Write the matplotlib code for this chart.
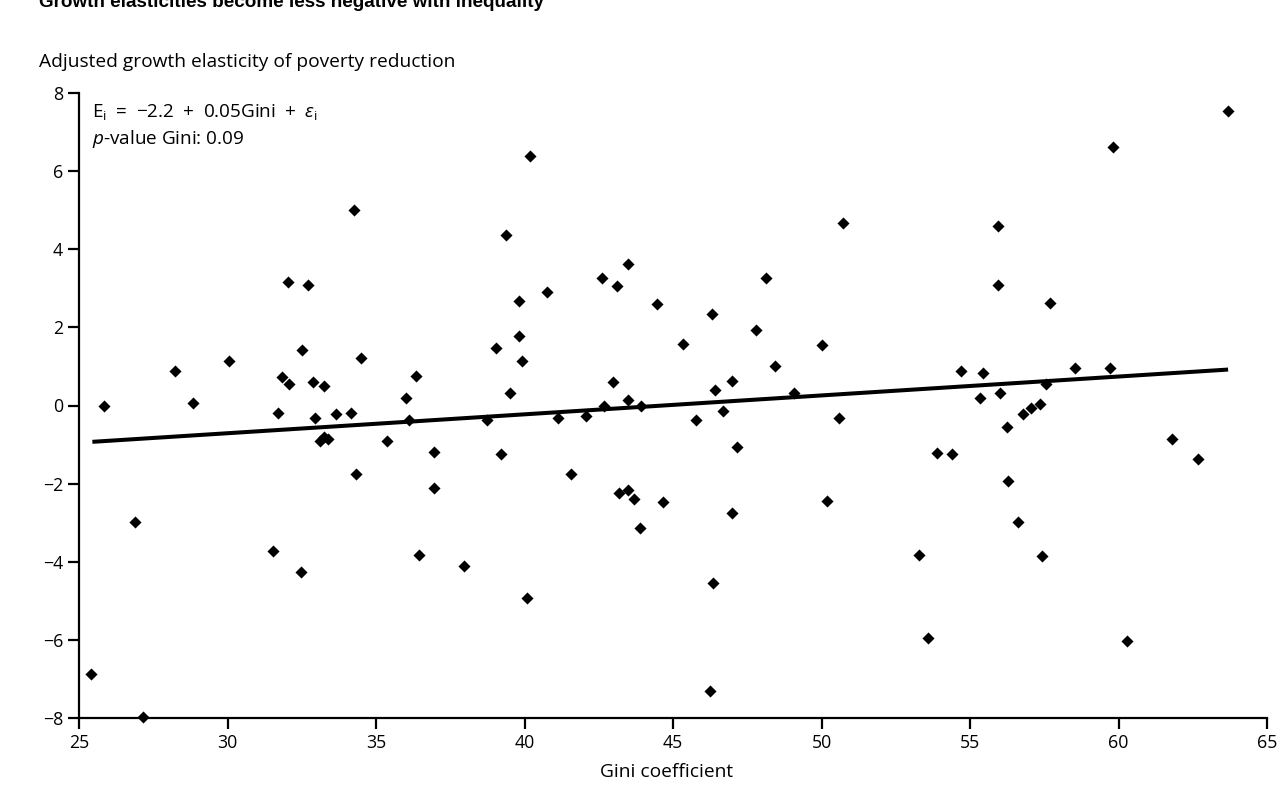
import matplotlib

matplotlib.use("Agg")
import matplotlib.pyplot as plt


# Gini coefficient (x) and adjusted growth elasticity (y)
gini = [
    25.39, 25.85, 26.88, 27.16, 28.22, 28.85, 30.05, 31.53, 31.70, 31.83,
    32.04, 32.06, 32.48, 32.51, 32.71, 32.87, 32.94, 33.10, 33.24, 33.24,
    33.39, 33.67, 34.16, 34.26, 34.31, 34.50, 35.38, 36.00, 36.11, 36.36,
    36.45, 36.94, 36.94, 37.97, 38.75, 39.04, 39.22, 39.39, 39.52, 39.81,
    39.81, 39.90, 40.07, 40.18, 40.76, 41.12, 41.58, 42.06, 42.60, 42.69,
    42.97, 43.11, 43.19, 43.47, 43.49, 43.50, 43.68, 43.89, 43.92, 44.47,
    44.67, 45.35, 45.77, 46.25, 46.32, 46.34, 46.41, 46.67, 46.98, 46.98,
    47.16, 47.78, 48.13, 48.42, 49.09, 50.02, 50.18, 50.60, 50.71, 53.27,
    53.60, 53.89, 54.38, 54.71, 55.33, 55.43, 55.95, 55.95, 56.02, 56.23,
    56.28, 56.63, 56.78, 57.06, 57.35, 57.43, 57.57, 57.70, 58.52, 59.73,
    59.83, 60.27, 61.80, 62.67, 63.69,
]
elasticity = [
    -6.88, 0.00, -2.98, -7.97, 0.88, 0.07, 1.13, -3.73, -0.18, 0.72,
    3.15, 0.55, -4.25, 1.42, 3.09, 0.60, -0.33, -0.90, -0.81, 0.49,
    -0.85, -0.23, -0.19, 5.00, -1.76, 1.21, -0.90, 0.20, -0.36, 0.75,
    -3.82, -1.19, -2.10, -4.12, -0.36, 1.47, -1.25, 4.36, 0.31, 2.68,
    1.77, 1.13, -4.93, 6.39, 2.91, -0.33, -1.76, -0.26, 3.27, -0.02,
    0.60, 3.05, -2.23, 0.15, 3.61, -2.17, -2.40, -3.14, -0.02, 2.59,
    -2.47, 1.57, -0.38, -7.32, 2.34, -4.54, 0.40, -0.15, 0.64, -2.75,
    -1.07, 1.94, 3.27, 1.00, 0.32, 1.55, -2.44, -0.33, 4.67, -3.83,
    -5.96, -1.21, -1.24, 0.88, 0.20, 0.84, 4.59, 3.08, 0.32, -0.55,
    -1.92, -2.98, -0.21, -0.06, 0.03, -3.84, 0.56, 2.63, 0.96, 0.96,
    6.63, -6.03, -0.86, -1.38, 7.54,
]

# fitted line end points
fit_x = [25.45, 63.69]
fit_y = [-0.93, 0.92]

x_ticks = [25, 30, 35, 40, 45, 50, 55, 60, 65]
y_ticks = [-8, -6, -4, -2, 0, 2, 4, 6, 8]

TITLE = "Growth elasticities become less negative with inequality"
Y_LABEL = "Adjusted growth elasticity of poverty reduction"
X_LABEL = "Gini coefficient"
SP = "\u2002"
EQUATION = (r"E$_\mathregular{i}$" + SP + "=" + SP + "−2.2" + SP + "+" + SP
            + "0.05Gini" + SP + "+" + SP + r"$\it{ε}_\mathregular{i}$")
P_VALUE = r"$\it{p}$-value Gini: 0.09"

W, H = 1286, 785


def main() -> None:
    plt.rcParams["font.family"] = ["Open Sans", "DejaVu Sans"]
    plt.rcParams["font.weight"] = 500
    plt.rcParams["mathtext.fontset"] = "custom"
    plt.rcParams["mathtext.rm"] = "Open Sans:medium"
    plt.rcParams["mathtext.it"] = "Open Sans:italic:medium"

    fig = plt.figure(figsize=(W / 100, H / 100), dpi=100)
    left, right, top, bottom = 79, 1267, 93, 718
    ax = fig.add_axes([left / W, 1 - bottom / H, (right - left) / W, (bottom - top) / H])

    ax.plot(fit_x, fit_y, color="black", linewidth=2.9, solid_capstyle="butt", zorder=2)
    ax.scatter(gini, elasticity, marker="D", s=38, color="black", linewidths=0,
               clip_on=False, zorder=3)

    ax.set_xlim(25, 65)
    ax.set_ylim(-8, 8)
    ax.set_xticks(x_ticks)
    ax.set_yticks(y_ticks)
    for side in ("top", "right"):
        ax.spines[side].set_visible(False)
    for side in ("left", "bottom"):
        ax.spines[side].set_linewidth(1.6)
    ax.tick_params(axis="both", length=8, width=1.6, pad=3.5, labelsize=12.8, color="black")

    ax.set_xlabel(X_LABEL, fontsize=13.8)
    ax.xaxis.set_label_coords((667 - left) / (right - left), -(772 - bottom) / (bottom - top))
    ax.xaxis.label.set_verticalalignment("center")

    ax.text((92 - left) / (right - left), (bottom - 112) / (bottom - top), EQUATION,
            transform=ax.transAxes, fontsize=13.6, va="center", ha="left")
    ax.text((92 - left) / (right - left), (bottom - 139) / (bottom - top), P_VALUE,
            transform=ax.transAxes, fontsize=13.6, va="center", ha="left")

    fig.text(39 / W, 1 - 62 / H, Y_LABEL, fontsize=13.8, va="center", ha="left")
    fig.text(39 / W, 1 - 7 / H, TITLE, fontsize=13.6, fontweight="bold",
             family="Liberation Sans", va="baseline", ha="left")

    fig.savefig("out.png", dpi=100)


if __name__ == "__main__":
    main()
